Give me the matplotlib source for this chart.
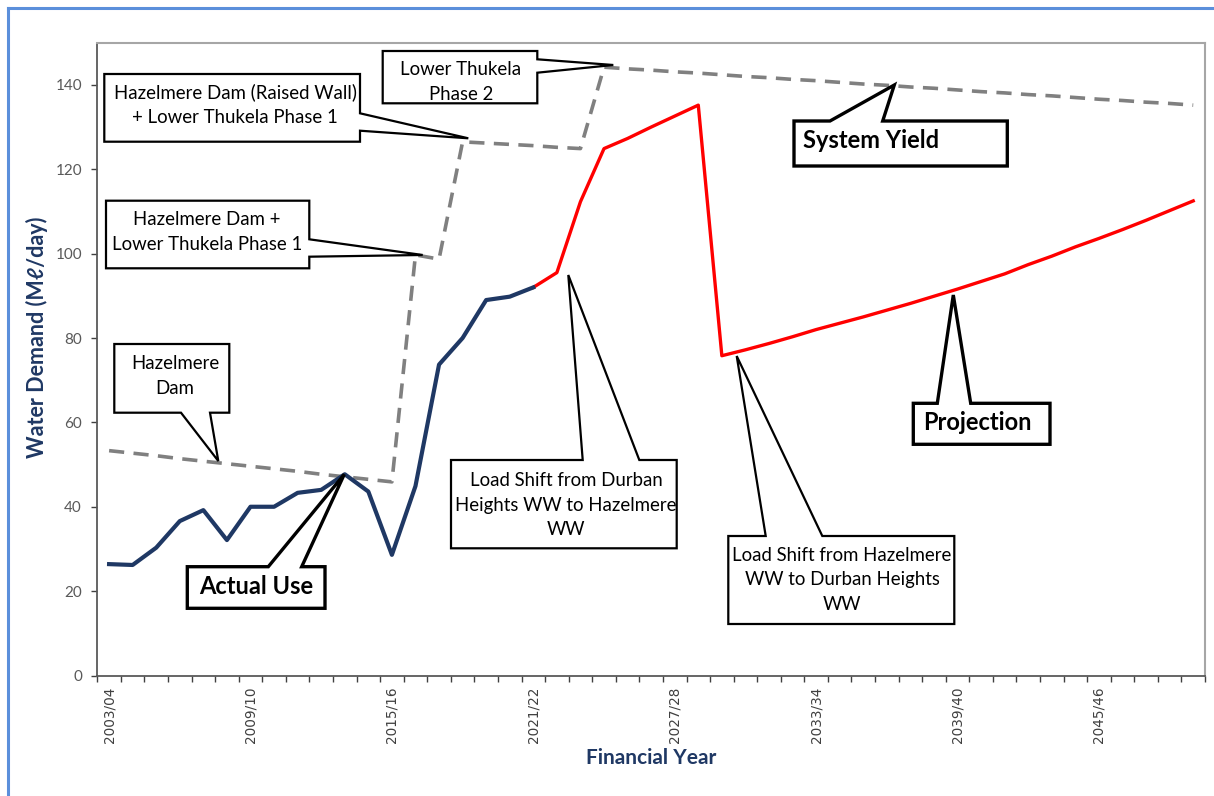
import numpy as np
import matplotlib.pyplot as plt
import matplotlib as mpl
from matplotlib.patches import Polygon
from matplotlib.lines import Line2D
from matplotlib.transforms import Affine2D

mpl.rcParams['font.family'] = ['Lato', 'DejaVu Sans']

# financial years 2003/04 .. 2049/50
years = ['%d/%02d' % (y, (y + 1) % 100) for y in range(2003, 2050)]

# actual use, 2003/04 .. 2021/22
actual_use = [26.4, 26.2, 30.3, 36.6, 39.2, 32.1, 40.0, 40.0, 43.3, 44.0,
              47.7, 43.6, 28.6, 44.9, 73.7, 80.0, 89.0, 89.8, 92.0]

# projection, 2021/22 .. 2049/50
projection = [92.0, 95.5, 112.3, 124.9, 127.3, 130.0, 132.6, 135.2,
              75.8, 77.2, 78.7, 80.3, 82.0, 83.5, 85.0, 86.6, 88.2, 89.9,
              91.6, 93.4, 95.2, 97.4, 99.4, 101.6, 103.6, 105.7, 107.9,
              110.2, 112.5]

# system yield, 2003/04 .. 2049/50
system_yield = [53.3, 52.7, 52.1, 51.4, 50.8, 50.2, 49.6, 49.0, 48.4, 47.7,
                47.1, 46.5, 45.9,
                99.7, 98.7,
                126.5, 126.2, 125.9, 125.6, 125.2, 124.9,
                144.2, 143.8, 143.5, 143.1, 142.8, 142.4, 142.0, 141.7,
                141.3, 141.0, 140.6, 140.2, 139.9, 139.5, 139.2, 138.8,
                138.4, 138.1, 137.7, 137.4, 137.0, 136.6, 136.3, 135.9,
                135.6, 135.2]

navy = '#1F3864'
W, H = 1214, 796

fig = plt.figure(figsize=(W / 100, H / 100), dpi=100)
# reference pixel coords (origin top-left) -> display
px = Affine2D().scale(1 / 100, -1 / 100).translate(0, H / 100) + fig.dpi_scale_trans

ax = fig.add_axes([97.3 / W, 1 - 675.5 / H, (1205 - 97.3) / W, (675.5 - 42.7) / H])

x_all = np.arange(len(years))
ax.plot(x_all, system_yield, color='#808080', lw=2.6, dashes=(4.2, 2.6),
        solid_capstyle='butt', zorder=2)
ax.plot(x_all[18:], projection, color='#FF0000', lw=2.4, zorder=3)
ax.plot(x_all[:len(actual_use)], actual_use, color=navy, lw=3.0, zorder=4)

ax.set_xlim(-0.5, len(years) - 0.5)
ax.set_ylim(0, 150)
ax.set_yticks(np.arange(0, 141, 20))
ax.set_xticks(x_all[::6])
ax.set_xticklabels(years[::6], rotation=90, fontsize=9.8, family='DejaVu Sans',
                   color='#404040')
ax.set_xticks(np.arange(-0.5, len(years), 1), minor=True)
ax.tick_params(axis='x', which='major', length=0, pad=8)
ax.tick_params(axis='x', which='minor', length=4, width=1.0, color='#404040',
               direction='out')
ax.tick_params(axis='y', length=4, width=1.0, color='#404040', direction='out',
               pad=7, labelsize=11, labelcolor='#595959')
for s in ['left', 'bottom']:
    ax.spines[s].set_color('#595959')
    ax.spines[s].set_linewidth(1.3)
for s in ['top', 'right']:
    ax.spines[s].set_color('#A6A6A6')
    ax.spines[s].set_linewidth(1.5)

fig.text(37, 337, 'Water Demand (M\u2113/day)', transform=px, rotation=90,
         ha='center', va='center', fontsize=15.5, fontweight='bold', color=navy)
fig.text(651, 758, 'Financial Year', transform=px, ha='center', va='center',
         fontsize=15, fontweight='bold', color=navy)

# outer chart frame
fig.add_artist(Line2D([8, 8], [8, H], transform=px, color='#5B8FDB', lw=2.2))
fig.add_artist(Line2D([8, W], [8, 8], transform=px, color='#5B8FDB', lw=2.2))


def callout(box, side, b1, b2, tip, lw=1.6):
    x0, y0, x1, y1 = box
    v = [(x0, y0)]
    if side == 'top':
        v += [(b1, y0), tip, (b2, y0)]
    v += [(x1, y0)]
    if side == 'right':
        v += [(x1, b1), tip, (x1, b2)]
    v += [(x1, y1)]
    if side == 'bottom':
        v += [(b2, y1), tip, (b1, y1)]
    v += [(x0, y1)]
    fig.add_artist(Polygon(v, closed=True, transform=px, facecolor='white',
                           edgecolor='black', lw=lw, joinstyle='miter', zorder=5))


def label(x, y, s, bold=False, ha='center'):
    fig.text(x, y, s, transform=px, ha=ha, va='center', multialignment='center',
             fontsize=17 if bold else 13.4, fontweight='bold' if bold else 'normal',
             linespacing=1.55, color='black', zorder=6)


callout((382.7, 51, 537.3, 103.3), 'right', 59.3, 72.7, (613.3, 65))
label(461, 82, 'Lower Thukela\nPhase 2')

callout((104.3, 74, 360, 141.7), 'right', 113.3, 130.7, (468.3, 138.3))
label(235, 105, 'Hazelmere Dam (Raised Wall)\n+ Lower Thukela Phase 1')

callout((106, 200.7, 309.3, 268.3), 'right', 239.3, 256.7, (422.7, 255))
label(207, 232, 'Hazelmere Dam +\nLower Thukela Phase 1')

callout((114.3, 344, 229.3, 412.7), 'bottom', 181, 210, (218.3, 461))
label(175, 376, 'Hazelmere\nDam')

callout((187.3, 566.7, 325, 608.3), 'top', 268.3, 301.7, (344.3, 474.3), lw=2.4)
label(256, 586, 'Actual Use', bold=True)

callout((451, 460, 676.7, 548.3), 'top', 582.7, 639.3, (568.3, 275))
label(566, 505, 'Load Shift from Durban\nHeights WW to Hazelmere\nWW')

callout((728.3, 536, 954.3, 624), 'top', 765.7, 822.3, (736.7, 356))
label(842, 580, 'Load Shift from Hazelmere\nWW to Durban Heights\nWW')

callout((794, 121, 1007.3, 166), 'top', 830, 882.7, (894.3, 85), lw=2.4)
label(803, 141, 'System Yield', bold=True, ha='left')

callout((913.3, 403.3, 1050, 444.3), 'top', 937.3, 970.7, (953.3, 295), lw=2.4)
label(923, 422, 'Projection', bold=True, ha='left')

fig.savefig('out.png', dpi=100)
